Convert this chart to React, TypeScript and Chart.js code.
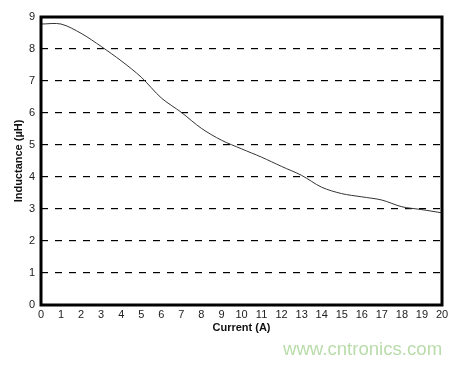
import React, { useEffect, useRef } from "react";
import { Chart, registerables } from "chart.js";

Chart.register(...registerables);

const currentA = [0, 1, 2, 3, 4, 5, 6, 7, 8, 9, 10, 11, 12, 13, 14, 15, 16, 17, 18, 19, 20];
const inductanceUH = [8.78, 8.78, 8.49, 8.08, 7.63, 7.12, 6.47, 6.02, 5.52, 5.15, 4.88, 4.62, 4.33, 4.05, 3.68, 3.48, 3.38, 3.28, 3.07, 2.98, 2.88];
const xTitle = "Current (A)";
const yTitle = "Inductance (\u00b5H)";
const watermark = "www.cntronics.com";

const FONT = "'Liberation Sans', Arial, sans-serif";

const framePlugin = {
  id: "frame",
  afterDraw(chart: any) {
    const { ctx, chartArea } = chart;
    ctx.save();
    ctx.strokeStyle = "#000";
    ctx.lineWidth = 3;
    ctx.setLineDash([]);
    ctx.strokeRect(chartArea.left, chartArea.top, chartArea.right - chartArea.left, chartArea.bottom - chartArea.top);
    ctx.restore();
  },
};

export default function App() {
  const ref = useRef<HTMLCanvasElement>(null);
  useEffect(() => {
    document.body.style.margin = "0";
    const chart = new Chart(ref.current!, {
      type: "line",
      data: {
        datasets: [
          {
            data: currentA.map((x, i) => ({ x, y: inductanceUH[i] })),
            borderColor: "#333",
            borderWidth: 1,
            pointRadius: 0,
            tension: 0.3,
            fill: false,
          },
        ],
      },
      options: {
        animation: false,
        responsive: false,
        maintainAspectRatio: false,
        layout: { padding: { left: 0, top: 17, right: 21, bottom: 0 } },
        plugins: { legend: { display: false }, tooltip: { enabled: false } },
        scales: {
          x: {
            type: "linear",
            min: 0,
            max: 20,
            ticks: { stepSize: 1, color: "#222", font: { family: FONT, size: 11 }, padding: 3, maxRotation: 0 },
            grid: { display: false, drawTicks: false },
            border: { display: false },
            title: { display: true, text: xTitle, color: "#111", font: { family: FONT, size: 11, weight: "bold" }, padding: { top: 0, bottom: 32 } },
            afterFit: (s: any) => { s.height = 62; },
          },
          y: {
            min: 0,
            max: 9,
            ticks: { stepSize: 1, color: "#222", font: { family: FONT, size: 11 }, padding: 6 },
            grid: {
              drawTicks: false,
              color: (c: any) => (c.tick && (c.tick.value === 0 || c.tick.value === 9) ? "rgba(0,0,0,0)" : "#000"),
              lineWidth: 1.2,
            },
            border: { display: false, dash: [7, 7] },
            title: { display: true, text: yTitle, color: "#111", font: { family: FONT, size: 11, weight: "bold" }, padding: { top: 12, bottom: 12 } },
            afterFit: (s: any) => { s.width = 41; },
          },
        },
      },
      plugins: [framePlugin],
    } as any);
    return () => chart.destroy();
  }, []);
  return (
    <div style={{ position: "relative", width: 463, height: 367, background: "#fff" }}>
      <canvas ref={ref} width={463} height={367} style={{ display: "block" }} />
      <div
        style={{
          position: "absolute",
          left: 283,
          top: 338,
          fontFamily: FONT,
          fontSize: 18.6,
          color: "#b9dcaa",
          whiteSpace: "nowrap",
          lineHeight: "22px",
        }}
      >
        {watermark}
      </div>
    </div>
  );
}
